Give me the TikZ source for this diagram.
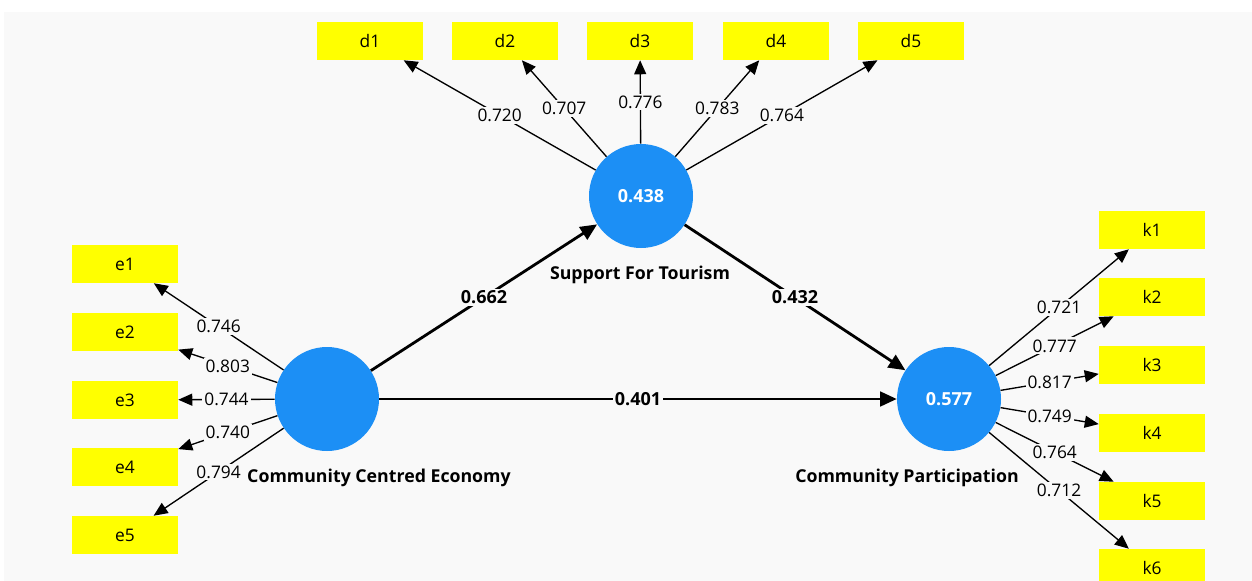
\documentclass[tikz,border=0pt]{standalone}
\usepackage{fontspec}
\setmainfont{Open Sans}
\usetikzlibrary{arrows.meta}
\definecolor{panel}{HTML}{F9F9F9}
\definecolor{lvblue}{HTML}{1C8FF5}
\definecolor{itemyellow}{HTML}{FFFF00}
\tikzset{
  item/.style={fill=itemyellow, minimum width=79.5pt, minimum height=28.5pt,
    inner sep=0pt, font=\fontsize{13}{15}\selectfont},
  latent/.style={circle, fill=lvblue, minimum size=78pt, inner sep=0pt,
    text=white, font=\bfseries\fontsize{13.5}{15}\selectfont},
  loading/.style={draw, line width=1pt, -{Triangle[length=10.5pt,width=9pt]}},
  structural/.style={draw, line width=2.1pt, -{Triangle[length=12.5pt,width=11pt]}},
  wt/.style={fill=panel, inner sep=1.5pt, font=\fontsize{13}{15}\selectfont},
  bwt/.style={wt, font=\bfseries\fontsize{13.5}{15}\selectfont},
  lvname/.style={font=\bfseries\fontsize{13.3}{15}\selectfont}
}
\begin{document}
\begin{tikzpicture}[x=0.75pt,y=-0.75pt]
\useasboundingbox (0,0) rectangle (1252,581);
\clip (0,0) rectangle (1252,581);
\fill[panel] (4,12) rectangle (1252,581);

% latent variables
\node[latent] (cce) at (327,399) {};
\node[latent] (sft) at (641,196) {0.438};
\node[latent] (cp) at (949,399) {0.577};
\node[lvname] (cce-name) at (379,478) {Community Centred Economy};
\node[lvname] (sft-name) at (640,275) {Support For Tourism};
\node[lvname] (cp-name) at (907,478) {Community Participation};

% indicators
\foreach \i/\x in {1/370,2/505,3/640,4/776,5/911}
	\node[item] (d\i) at (\x,41) {d\i};
\foreach \i/\y in {1/264,2/332,3/400,4/467,5/535}
	\node[item] (e\i) at (125,\y) {e\i};
\foreach \i/\y in {1/230,2/297,3/365,4/433,5/501,6/568}
	\node[item] (k\i) at (1152,\y) {k\i};

% outer loadings
\foreach \i/\w in {1/0.720,2/0.707,3/0.776,4/0.783,5/0.764}
	\draw[loading] (sft) -- node[wt] {\w} (d\i);
\foreach \i/\w in {1/0.746,2/0.803,3/0.744,4/0.740,5/0.794}
	\draw[loading] (cce) -- node[wt] {\w} (e\i);
\foreach \i/\w in {1/0.721,2/0.777,3/0.817,4/0.749,5/0.764,6/0.712}
	\draw[loading] (cp) -- node[wt] {\w} (k\i);

% path coefficients
\draw[structural] (cce) -- node[bwt] {0.662} (sft);
\draw[structural] (sft) -- node[bwt] {0.432} (cp);
\draw[structural] (cce) -- node[bwt] {0.401} (cp);
\end{tikzpicture}
\end{document}
